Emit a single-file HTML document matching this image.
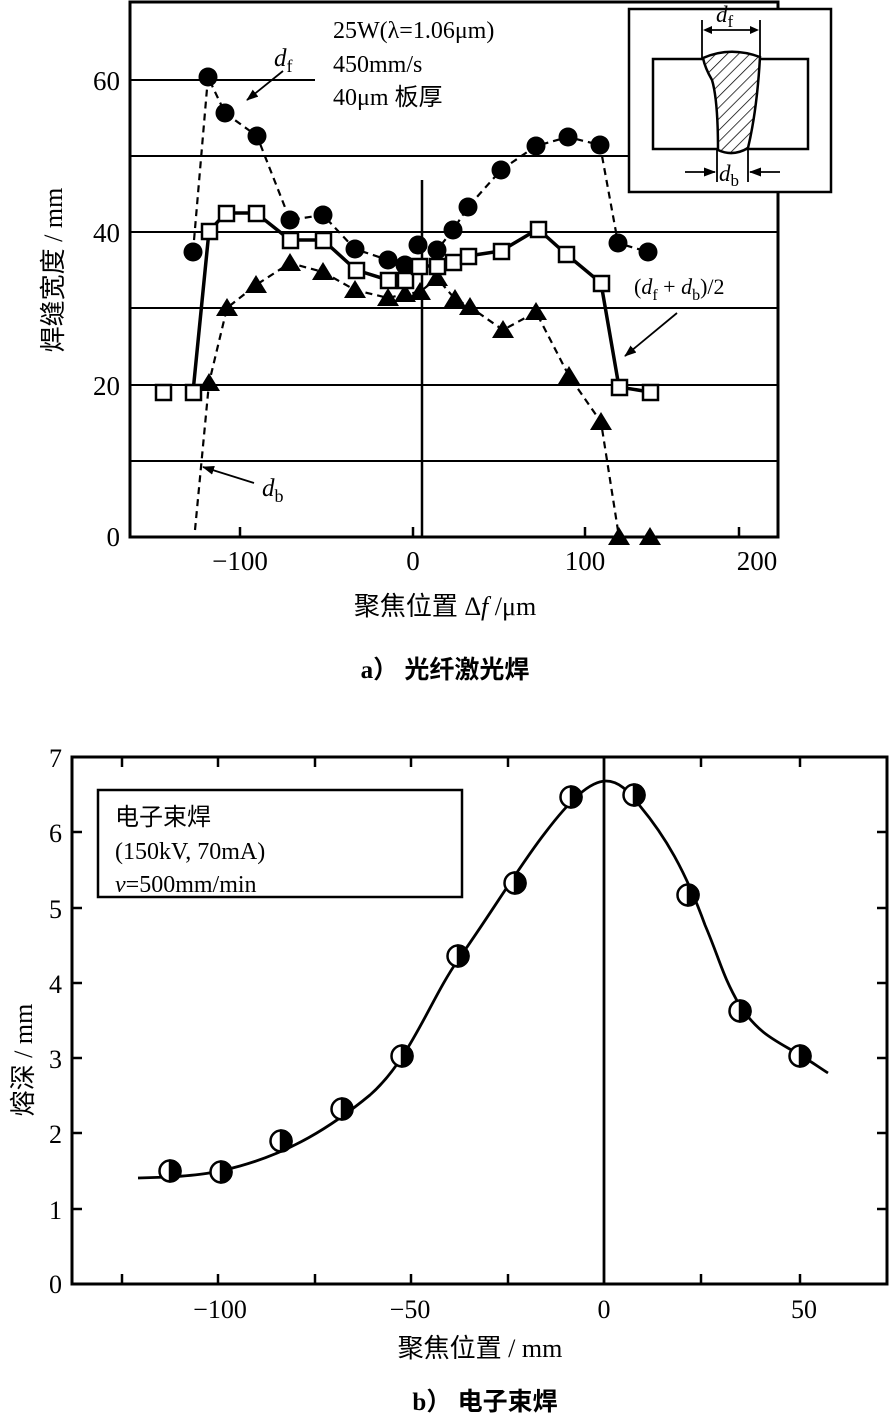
<!DOCTYPE html>
<html><head><meta charset="utf-8">
<style>
html,body{margin:0;padding:0;background:#fff;}
svg{display:block;}
text{font-family:"Liberation Serif","Noto Serif CJK SC","Noto Sans CJK SC",serif;fill:#000;}
.cj{font-family:"Liberation Serif","Noto Sans CJK SC",sans-serif;}
</style></head><body>
<svg width="891" height="1419" viewBox="0 0 891 1419" xmlns="http://www.w3.org/2000/svg">
<defs>
<pattern id="hatch" width="8" height="8" patternUnits="userSpaceOnUse" patternTransform="rotate(45)">
<line x1="0" y1="0" x2="0" y2="8" stroke="#000" stroke-width="1.5"/>
</pattern>
<marker id="ah" markerWidth="12" markerHeight="9" refX="11" refY="4.5" orient="auto" markerUnits="userSpaceOnUse">
<path d="M0,0 L12,4.5 L0,9 Z" fill="#000"/>
</marker>
</defs>

<!-- ===== Chart a ===== -->
<g stroke="#000" fill="none">
<rect x="130" y="2" width="648" height="535" stroke-width="3"/>
<line x1="130" y1="80" x2="315" y2="80" stroke-width="2"/>
<line x1="130" y1="156" x2="778" y2="156" stroke-width="2"/>
<line x1="130" y1="232" x2="778" y2="232" stroke-width="2"/>
<line x1="130" y1="308" x2="778" y2="308" stroke-width="2"/>
<line x1="130" y1="385" x2="778" y2="385" stroke-width="2"/>
<line x1="130" y1="461" x2="778" y2="461" stroke-width="2"/>
<line x1="422" y1="180" x2="422" y2="537" stroke-width="2.5"/>
<line x1="240" y1="537" x2="240" y2="527" stroke-width="2.5"/>
<line x1="413" y1="537" x2="413" y2="527" stroke-width="2.5"/>
<line x1="585" y1="537" x2="585" y2="527" stroke-width="2.5"/>
<line x1="739" y1="537" x2="739" y2="527" stroke-width="2.5"/>
</g>
<g font-size="27">
<text x="120" y="90" text-anchor="end">60</text>
<text x="120" y="242" text-anchor="end">40</text>
<text x="120" y="395" text-anchor="end">20</text>
<text x="120" y="546" text-anchor="end">0</text>
<text x="240" y="570" text-anchor="middle">−100</text>
<text x="413" y="570" text-anchor="middle">0</text>
<text x="585" y="570" text-anchor="middle">100</text>
<text x="757" y="570" text-anchor="middle">200</text>
</g>
<text class="cj" x="0" y="0" font-size="26" text-anchor="middle" transform="translate(62,270) rotate(-90)">焊缝宽度 / mm</text>
<text class="cj" x="445" y="615" font-size="26" text-anchor="middle">聚焦位置 Δ<tspan font-style="italic">f</tspan> /μm</text>
<text class="cj" x="445" y="678" font-size="25" text-anchor="middle" font-weight="bold">a） 光纤激光焊</text>

<g font-size="24">
<text x="333" y="38">25W(λ=1.06μm)</text>
<text x="333" y="72">450mm/s</text>
<text class="cj" x="333" y="105">40μm 板厚</text>
</g>

<polyline fill="none" stroke="#000" stroke-width="2.2" stroke-dasharray="7,5" points="193,252 208,77 225,113 257,136 290,220 323,215 355,249 388,260 405,265 418,245 437,250 453,230 468,207 501,170 536,146 568,137 600,145 618,243 648,252"/>
<polyline fill="none" stroke="#000" stroke-width="2.2" stroke-dasharray="7,5" points="195,530 209,383 227,308 256,285 290,263 323,272 355,290 388,298 405,294 420,292 437,278 455,299 470,307 503,330 536,312 569,376 601,422 619,537"/>
<polyline fill="none" stroke="#000" stroke-width="3.5" points="193,392 209,231 226,213 256,213 290,240 323,240 356,270 388,280 405,280 419,266 437,266 453,262 468,256 501,251 538,229 566,254 601,283 619,387 650,392"/>

<g fill="#000">
<circle cx="193" cy="252" r="9.5"/><circle cx="208" cy="77" r="9.5"/><circle cx="225" cy="113" r="9.5"/><circle cx="257" cy="136" r="9.5"/><circle cx="290" cy="220" r="9.5"/><circle cx="323" cy="215" r="9.5"/><circle cx="355" cy="249" r="9.5"/><circle cx="388" cy="260" r="9.5"/><circle cx="405" cy="265" r="9.5"/><circle cx="418" cy="245" r="9.5"/><circle cx="437" cy="250" r="9.5"/><circle cx="453" cy="230" r="9.5"/><circle cx="468" cy="207" r="9.5"/><circle cx="501" cy="170" r="9.5"/><circle cx="536" cy="146" r="9.5"/><circle cx="568" cy="137" r="9.5"/><circle cx="600" cy="145" r="9.5"/><circle cx="618" cy="243" r="9.5"/><circle cx="648" cy="252" r="9.5"/>
</g>
<g fill="#000">
<path d="M209,373 l-11,18 h22z"/><path d="M227,298 l-11,18 h22z"/><path d="M256,275 l-11,18 h22z"/><path d="M290,253 l-11,18 h22z"/><path d="M323,262 l-11,18 h22z"/><path d="M355,280 l-11,18 h22z"/><path d="M388,288 l-11,18 h22z"/><path d="M405,284 l-11,18 h22z"/><path d="M420,282 l-11,18 h22z"/><path d="M437,268 l-11,18 h22z"/><path d="M455,289 l-11,18 h22z"/><path d="M470,297 l-11,18 h22z"/><path d="M503,320 l-11,18 h22z"/><path d="M536,302 l-11,18 h22z"/><path d="M569,366 l-11,18 h22z"/><path d="M601,412 l-11,18 h22z"/><path d="M619,527 l-11,18 h22z"/><path d="M650,527 l-11,18 h22z"/>
</g>
<g fill="#fff" stroke="#000" stroke-width="2.5">
<rect x="156" y="385" width="15" height="15"/><rect x="186" y="385" width="15" height="15"/><rect x="202" y="224" width="15" height="15"/><rect x="219" y="206" width="15" height="15"/><rect x="249" y="206" width="15" height="15"/><rect x="283" y="233" width="15" height="15"/><rect x="316" y="233" width="15" height="15"/><rect x="349" y="263" width="15" height="15"/><rect x="381" y="273" width="15" height="15"/><rect x="398" y="273" width="15" height="15"/><rect x="412" y="259" width="15" height="15"/><rect x="430" y="259" width="15" height="15"/><rect x="446" y="255" width="15" height="15"/><rect x="461" y="249" width="15" height="15"/><rect x="494" y="244" width="15" height="15"/><rect x="531" y="222" width="15" height="15"/><rect x="559" y="247" width="15" height="15"/><rect x="594" y="276" width="15" height="15"/><rect x="612" y="380" width="15" height="15"/><rect x="643" y="385" width="15" height="15"/>
</g>
<text x="274" y="66" font-size="25" font-style="italic">d<tspan font-style="normal" font-size="18" dy="6">f</tspan></text>
<line x1="283" y1="71" x2="247" y2="100" stroke="#000" stroke-width="1.8" marker-end="url(#ah)"/>
<text x="262" y="496" font-size="25" font-style="italic">d<tspan font-style="normal" font-size="18" dy="6">b</tspan></text>
<line x1="254" y1="483" x2="203" y2="467" stroke="#000" stroke-width="1.8" marker-end="url(#ah)"/>
<text x="634" y="294" font-size="22">(<tspan font-style="italic">d</tspan><tspan font-size="16" dy="6">f</tspan><tspan dy="-6"> + </tspan><tspan font-style="italic">d</tspan><tspan font-size="16" dy="6">b</tspan><tspan dy="-6">)/2</tspan></text>
<line x1="677" y1="313" x2="625" y2="356" stroke="#000" stroke-width="1.8" marker-end="url(#ah)"/>

<!-- inset -->
<rect x="629" y="9" width="202" height="183" fill="#fff" stroke="#000" stroke-width="2.5"/>
<rect x="653" y="59" width="155" height="90" fill="none" stroke="#000" stroke-width="2.5"/>
<path d="M703,58 Q730,46 760,57 Q757,110 748,148 Q733,157 718,150 Q718,100 712,80 Q705,68 703,58 Z" fill="#fff" stroke="none"/>
<path d="M703,58 Q730,46 760,57 Q757,110 748,148 Q733,157 718,150 Q718,100 712,80 Q705,68 703,58 Z" fill="url(#hatch)" stroke="#000" stroke-width="2.5"/>
<g stroke="#000" stroke-width="1.8">
<line x1="702" y1="20" x2="702" y2="58"/><line x1="760" y1="20" x2="760" y2="57"/>
<line x1="706" y1="30" x2="756" y2="30"/>
<line x1="717" y1="150" x2="717" y2="182"/><line x1="748" y1="150" x2="748" y2="182"/>
<line x1="685" y1="172" x2="715" y2="172" marker-end="url(#ah)"/>
<line x1="780" y1="172" x2="750" y2="172" marker-end="url(#ah)"/>
</g>
<path d="M703,30 l9,-4 v8z M759,30 l-9,-4 v8z" fill="#000"/>
<text x="716" y="22" font-size="23" font-style="italic">d<tspan font-style="normal" font-size="17" dy="5">f</tspan></text>
<text x="719" y="181" font-size="23" font-style="italic">d<tspan font-style="normal" font-size="17" dy="5">b</tspan></text>

<!-- ===== Chart b ===== -->
<rect x="72" y="757" width="815" height="527" fill="none" stroke="#000" stroke-width="3"/>
<line x1="604" y1="757" x2="604" y2="1284" stroke="#000" stroke-width="2.8"/>
<g stroke="#000" stroke-width="2.5">
<line x1="122" y1="757" x2="122" y2="767"/><line x1="218" y1="757" x2="218" y2="767"/><line x1="315" y1="757" x2="315" y2="767"/><line x1="411" y1="757" x2="411" y2="767"/><line x1="508" y1="757" x2="508" y2="767"/><line x1="701" y1="757" x2="701" y2="767"/><line x1="800" y1="757" x2="800" y2="767"/>
<line x1="122" y1="1284" x2="122" y2="1274"/><line x1="218" y1="1284" x2="218" y2="1274"/><line x1="315" y1="1284" x2="315" y2="1274"/><line x1="411" y1="1284" x2="411" y2="1274"/><line x1="508" y1="1284" x2="508" y2="1274"/><line x1="701" y1="1284" x2="701" y2="1274"/><line x1="800" y1="1284" x2="800" y2="1274"/>
<line x1="72" y1="832" x2="82" y2="832"/><line x1="72" y1="908" x2="82" y2="908"/><line x1="72" y1="983" x2="82" y2="983"/><line x1="72" y1="1058" x2="82" y2="1058"/><line x1="72" y1="1133" x2="82" y2="1133"/><line x1="72" y1="1209" x2="82" y2="1209"/>
<line x1="887" y1="832" x2="877" y2="832"/><line x1="887" y1="908" x2="877" y2="908"/><line x1="887" y1="983" x2="877" y2="983"/><line x1="887" y1="1058" x2="877" y2="1058"/><line x1="887" y1="1133" x2="877" y2="1133"/><line x1="887" y1="1209" x2="877" y2="1209"/>
</g>
<g font-size="26" text-anchor="end">
<text x="62" y="767">7</text><text x="62" y="842">6</text><text x="62" y="918">5</text><text x="62" y="993">4</text><text x="62" y="1068">3</text><text x="62" y="1143">2</text><text x="62" y="1219">1</text><text x="62" y="1293">0</text>
</g>
<g font-size="26" text-anchor="middle">
<text x="220" y="1318">−100</text><text x="410" y="1318">−50</text><text x="604" y="1318">0</text><text x="804" y="1318">50</text>
</g>
<text class="cj" x="0" y="0" font-size="26" text-anchor="middle" transform="translate(32,1060) rotate(-90)">熔深 / mm</text>
<text class="cj" x="480" y="1357" font-size="26" text-anchor="middle">聚焦位置 / mm</text>
<text class="cj" x="485" y="1410" font-size="25" text-anchor="middle" font-weight="bold">b） 电子束焊</text>

<rect x="98" y="790" width="364" height="107" fill="#fff" stroke="#000" stroke-width="2.5"/>
<text class="cj" x="115" y="825" font-size="24">电子束焊</text>
<text x="115" y="859" font-size="24">(150kV, 70mA)</text>
<text x="115" y="892" font-size="24"><tspan font-style="italic">v</tspan>=500mm/min</text>

<path d="M138,1178 L170,1177 C200,1175 215,1173 240,1166 C290,1152 330,1128 370,1095 C410,1060 430,1000 458,960 C490,915 520,865 545,833 C570,800 590,781 606,781 C618,781 628,790 640,806 C665,836 685,870 705,925 C720,960 722,975 740,1006 C760,1035 775,1040 800,1055 C812,1062 820,1068 828,1073" fill="none" stroke="#000" stroke-width="2.8"/>

<g stroke="#000" stroke-width="2.5">
<g transform="translate(170,1171)"><circle r="10.5" fill="#fff"/><path d="M0,-10.5 A10.5,10.5 0 0 1 0,10.5 Z" fill="#000"/></g>
<g transform="translate(221,1172)"><circle r="10.5" fill="#fff"/><path d="M0,-10.5 A10.5,10.5 0 0 1 0,10.5 Z" fill="#000"/></g>
<g transform="translate(281,1141)"><circle r="10.5" fill="#fff"/><path d="M0,-10.5 A10.5,10.5 0 0 1 0,10.5 Z" fill="#000"/></g>
<g transform="translate(342,1109)"><circle r="10.5" fill="#fff"/><path d="M0,-10.5 A10.5,10.5 0 0 1 0,10.5 Z" fill="#000"/></g>
<g transform="translate(402,1056)"><circle r="10.5" fill="#fff"/><path d="M0,-10.5 A10.5,10.5 0 0 1 0,10.5 Z" fill="#000"/></g>
<g transform="translate(458,956)"><circle r="10.5" fill="#fff"/><path d="M0,-10.5 A10.5,10.5 0 0 1 0,10.5 Z" fill="#000"/></g>
<g transform="translate(515,883)"><circle r="10.5" fill="#fff"/><path d="M0,-10.5 A10.5,10.5 0 0 1 0,10.5 Z" fill="#000"/></g>
<g transform="translate(571,797)"><circle r="10.5" fill="#fff"/><path d="M0,-10.5 A10.5,10.5 0 0 1 0,10.5 Z" fill="#000"/></g>
<g transform="translate(634,795)"><circle r="10.5" fill="#fff"/><path d="M0,-10.5 A10.5,10.5 0 0 1 0,10.5 Z" fill="#000"/></g>
<g transform="translate(688,895)"><circle r="10.5" fill="#fff"/><path d="M0,-10.5 A10.5,10.5 0 0 1 0,10.5 Z" fill="#000"/></g>
<g transform="translate(740,1011)"><circle r="10.5" fill="#fff"/><path d="M0,-10.5 A10.5,10.5 0 0 1 0,10.5 Z" fill="#000"/></g>
<g transform="translate(800,1056)"><circle r="10.5" fill="#fff"/><path d="M0,-10.5 A10.5,10.5 0 0 1 0,10.5 Z" fill="#000"/></g>
</g>
</svg>
</body></html>
